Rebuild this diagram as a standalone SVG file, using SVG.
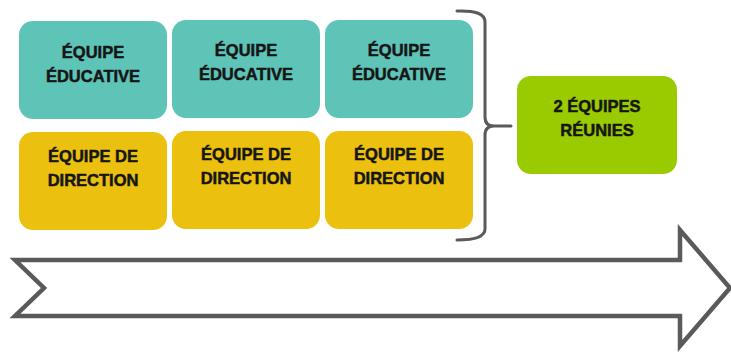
<svg xmlns="http://www.w3.org/2000/svg" width="731" height="354" viewBox="0 0 731 354">
<style>
.teal{fill:#5fc4b8}
.yel{fill:#ebc00e}
.grn{fill:#9acb00}
.t{font-family:"Liberation Sans",Arial,sans-serif;font-weight:bold;font-size:16.5px;fill:#161616;stroke:#161616;stroke-width:0.5;text-anchor:middle}
.ln{fill:none;stroke:#5a5a5a;stroke-width:3;stroke-linecap:round;stroke-linejoin:round}
</style>
<rect width="731" height="354" fill="#ffffff"/>
<g id="edu1"><rect class="teal" x="19" y="21" width="148" height="98" rx="14"/><text class="t" x="93" y="58">ÉQUIPE</text><text class="t" x="93" y="82">ÉDUCATIVE</text></g>
<g id="edu2"><rect class="teal" x="172" y="20" width="148" height="98" rx="14"/><text class="t" x="246" y="56">ÉQUIPE</text><text class="t" x="246" y="80">ÉDUCATIVE</text></g>
<g id="edu3"><rect class="teal" x="325" y="20" width="148" height="98" rx="14"/><text class="t" x="399" y="56">ÉQUIPE</text><text class="t" x="399" y="80">ÉDUCATIVE</text></g>
<g id="dir1"><rect class="yel" x="19" y="132" width="148" height="98" rx="14"/><text class="t" x="93" y="162">ÉQUIPE DE</text><text class="t" x="93" y="186">DIRECTION</text></g>
<g id="dir2"><rect class="yel" x="172" y="131" width="148" height="98" rx="14"/><text class="t" x="246" y="160">ÉQUIPE DE</text><text class="t" x="246" y="184">DIRECTION</text></g>
<g id="dir3"><rect class="yel" x="325" y="131" width="148" height="98" rx="14"/><text class="t" x="399" y="160">ÉQUIPE DE</text><text class="t" x="399" y="184">DIRECTION</text></g>
<g id="reunies"><rect class="grn" x="517" y="76" width="160" height="98" rx="14"/><text class="t" x="597" y="112">2 ÉQUIPES</text><text class="t" x="597" y="136">RÉUNIES</text></g>
<g id="connectors">
<path class="ln" d="M457,11 Q485,10 485,22 L485,117 Q485,126 494,126 L511,126 M494,126 Q485,126 485,135 L485,229 Q485,240 457,240"/>
<path d="M15,260 L680,260 L680,230 L730,288 L680,346 L680,316 L15,316 L44,288 Z" fill="#ffffff" stroke="#5a5a5a" stroke-width="4.5" stroke-linejoin="miter"/>
</g>
</svg>
